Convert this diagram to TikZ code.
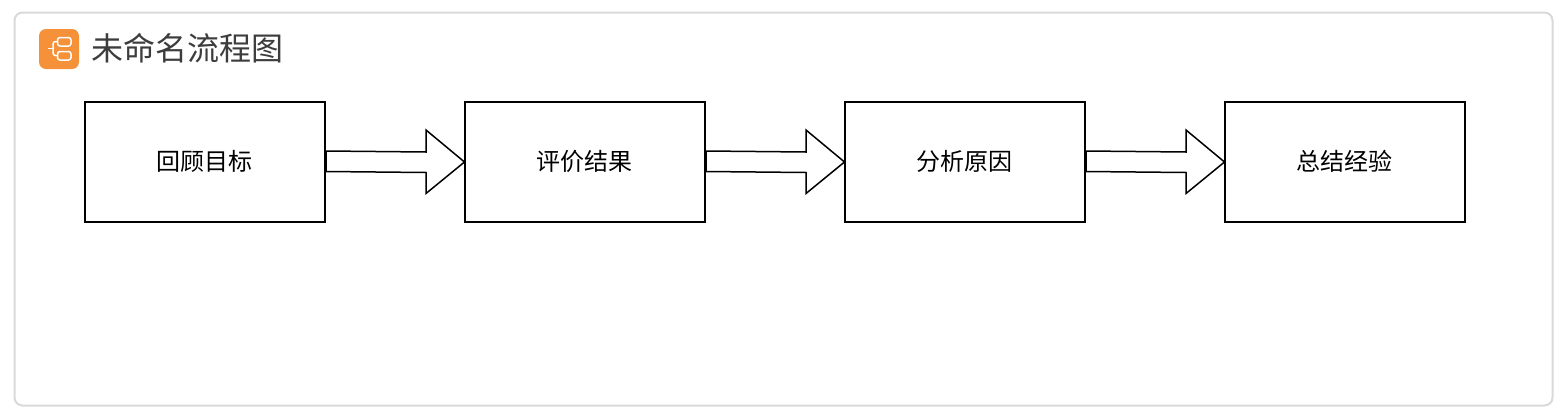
\documentclass[tikz,border=0pt]{standalone}
\usepackage{fontspec}
\newfontfamily\cjk{Noto Sans CJK SC}
\usetikzlibrary{positioning}
\definecolor{framegray}{HTML}{D9D9D9}
\definecolor{iconorange}{HTML}{F59138}
\definecolor{titlegray}{HTML}{3D3D3D}
\tikzset{
	stepbox/.style = {draw, line width = 1.5, minimum width = 240, minimum height = 120, inner sep = 0, outer sep = 0, text height = 21, text depth = 5, execute at begin node = {\kern-2pt}, font = \cjk\fontsize{24}{28}\selectfont},
	fatarrow/.style = {draw, fill = white, line width = 1.5, line join = miter}
}
\begin{document}
\begin{tikzpicture}[x = 1pt, y = -1pt]

	\useasboundingbox (0,0) rectangle (1564,418);

	% outer frame
	\draw[framegray, line width = 2, rounded corners = 8] (14.5,12.5) rectangle (1552.5,405.5);

	% title icon
	\fill[iconorange, rounded corners = 7] (39,29) rectangle (79,69);
	\draw[white, line width = 1.5, rounded corners = 2.5] (57.5,37.5) rectangle (71,46);
	\draw[white, line width = 1.5, rounded corners = 2.5] (57.5,51.5) rectangle (71,60);
	\draw[white, line width = 1.5, rounded corners = 2.5] (57.5,41.5) -- (53,41.5) -- (53,55.5) -- (57.5,55.5);
	\draw[white, line width = 1.5] (47.5,48.5) -- (53,48.5);

	\node[anchor = west, inner sep = 0, text = titlegray, font = \cjk\fontsize{32}{36}\selectfont] (title) at (91,48) {未命名流程图};

	\node[stepbox] (goal) at (205,162) {回顾目标};
	\node[stepbox, right = 140 of goal] (result) {评价结果};
	\node[stepbox, right = 140 of result] (cause) {分析原因};
	\node[stepbox, right = 140 of cause] (lesson) {总结经验};

	% hollow arrows between the boxes
	\foreach \from/\to in {goal/result, result/cause, cause/lesson}
	\draw[fatarrow] (\from.east) ++(1,-11) -- ++(100,1) -- ++(0,-22) -- ([xshift=-0.5]\to.west) -- ++(-38.5,31.5) -- ++(0,-21) -- ++(-100,-1) -- cycle;

\end{tikzpicture}
\end{document}
